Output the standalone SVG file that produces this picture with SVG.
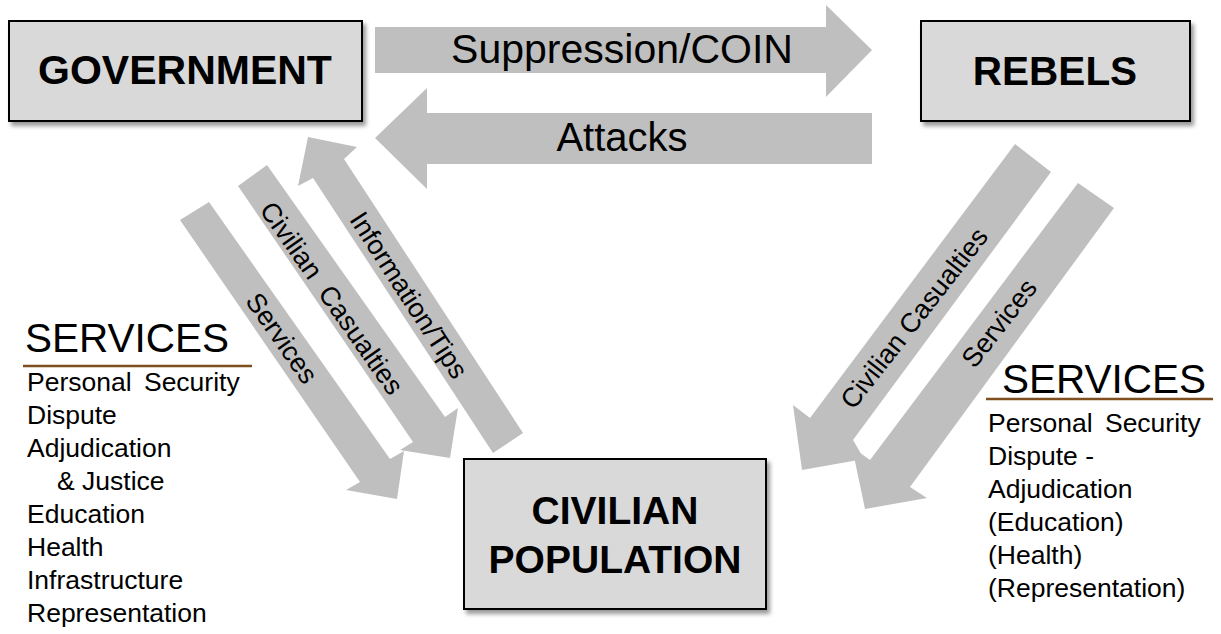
<svg xmlns="http://www.w3.org/2000/svg" width="1221" height="634" viewBox="0 0 1221 634">
<defs>
<filter id="sh" x="-10%" y="-10%" width="125%" height="130%">
<feDropShadow dx="3" dy="4" stdDeviation="2" flood-color="#000" flood-opacity="0.4"/>
</filter>
<style>
.box{fill:#D9D9D9;stroke:#000;stroke-width:2;filter:url(#sh)}
.bt{font-family:"Liberation Sans",Arial,sans-serif;font-weight:bold;fill:#000;text-anchor:middle}
.arr{fill:#BFBFBF;stroke:none}
.al{font-family:"Liberation Sans",Arial,sans-serif;fill:#000;text-anchor:middle}
.svc{font-family:"Liberation Sans",Arial,sans-serif;fill:#000;font-size:26.5px}
.svh{font-family:"Liberation Sans",Arial,sans-serif;fill:#000;font-size:40.5px}
.ul{stroke:#7F4F1F;stroke-width:2.5}
</style>
</defs>
<rect width="1221" height="634" fill="#fff"/>
<g id="connectors">
<g id="suppression">
<polygon class="arr" points="375,27 826,27 826,5 872,50 826,97 826,73 375,73"/>
<text class="al" x="622" y="63" font-size="41">Suppression/COIN</text>
</g>
<g id="attacks">
<polygon class="arr" points="872,113 427,113 427,88 375,138 427,189 427,164 872,164"/>
<text class="al" x="622" y="151" font-size="40">Attacks</text>
</g>
<g id="gov-services">
<polygon class="arr" points="180,220 209,202 390,459 404,451 397,499 346,490 360,482"/>
<text class="al" font-size="27" dy="0.35em" transform="translate(282,338) rotate(55)">Services</text>
</g>
<g id="gov-casualties">
<polygon class="arr" points="238,186 267,165 445,417 458,408 450,458 400,450 413,442"/>
<text class="al" font-size="27" dy="0.35em" transform="translate(332,298) rotate(55)">Civilian&#160; Casualties</text>
</g>
<g id="info-tips">
<polygon class="arr" points="493,453 523,433 344,159 357,147 308,137 298,186 313,178"/>
<text class="al" font-size="27" dy="0.35em" transform="translate(409,295) rotate(57)">Information/Tips</text>
</g>
<g id="reb-casualties">
<polygon class="arr" points="1015,144 1051,172 853,440 864,459 802,470 793,405 810,418"/>
<text class="al" font-size="27" dy="0.35em" transform="translate(914,318) rotate(-52)">Civilian Casualties</text>
</g>
<g id="reb-services">
<polygon class="arr" points="1078,183 1114,208 910,487 927,498 865,509 852,447 870,460"/>
<text class="al" font-size="27" dy="0.35em" transform="translate(999,323) rotate(-52)">Services</text>
</g>
</g>
<g id="government">
<rect class="box" x="9" y="21" width="353" height="100"/>
<text class="bt" x="185" y="84" font-size="41">GOVERNMENT</text>
</g>
<g id="rebels">
<rect class="box" x="921" y="21" width="269" height="100"/>
<text class="bt" x="1055" y="85" font-size="40.5">REBELS</text>
</g>
<g id="civilian-population">
<rect class="box" x="464" y="459" width="302" height="150"/>
<text class="bt" x="615" y="524" font-size="39">CIVILIAN</text>
<text class="bt" x="615" y="573" font-size="39">POPULATION</text>
</g>
<g id="gov-services-list">
<text class="svh" x="25" y="352">SERVICES</text>
<line class="ul" x1="23" y1="366" x2="252" y2="366"/>
<text class="svc" x="27" y="391" word-spacing="5">Personal Security</text>
<text class="svc" x="27" y="424">Dispute</text>
<text class="svc" x="27" y="457">Adjudication</text>
<text class="svc" x="57" y="490">&amp; Justice</text>
<text class="svc" x="27" y="523">Education</text>
<text class="svc" x="27" y="556">Health</text>
<text class="svc" x="27" y="589">Infrastructure</text>
<text class="svc" x="27" y="622">Representation</text>
</g>
<g id="reb-services-list">
<text class="svh" x="1002" y="393">SERVICES</text>
<line class="ul" x1="986" y1="399" x2="1213" y2="399"/>
<text class="svc" x="988" y="432" word-spacing="5">Personal Security</text>
<text class="svc" x="988" y="465">Dispute -</text>
<text class="svc" x="988" y="498">Adjudication</text>
<text class="svc" x="988" y="531">(Education)</text>
<text class="svc" x="988" y="564">(Health)</text>
<text class="svc" x="988" y="597">(Representation)</text>
</g>
</svg>
